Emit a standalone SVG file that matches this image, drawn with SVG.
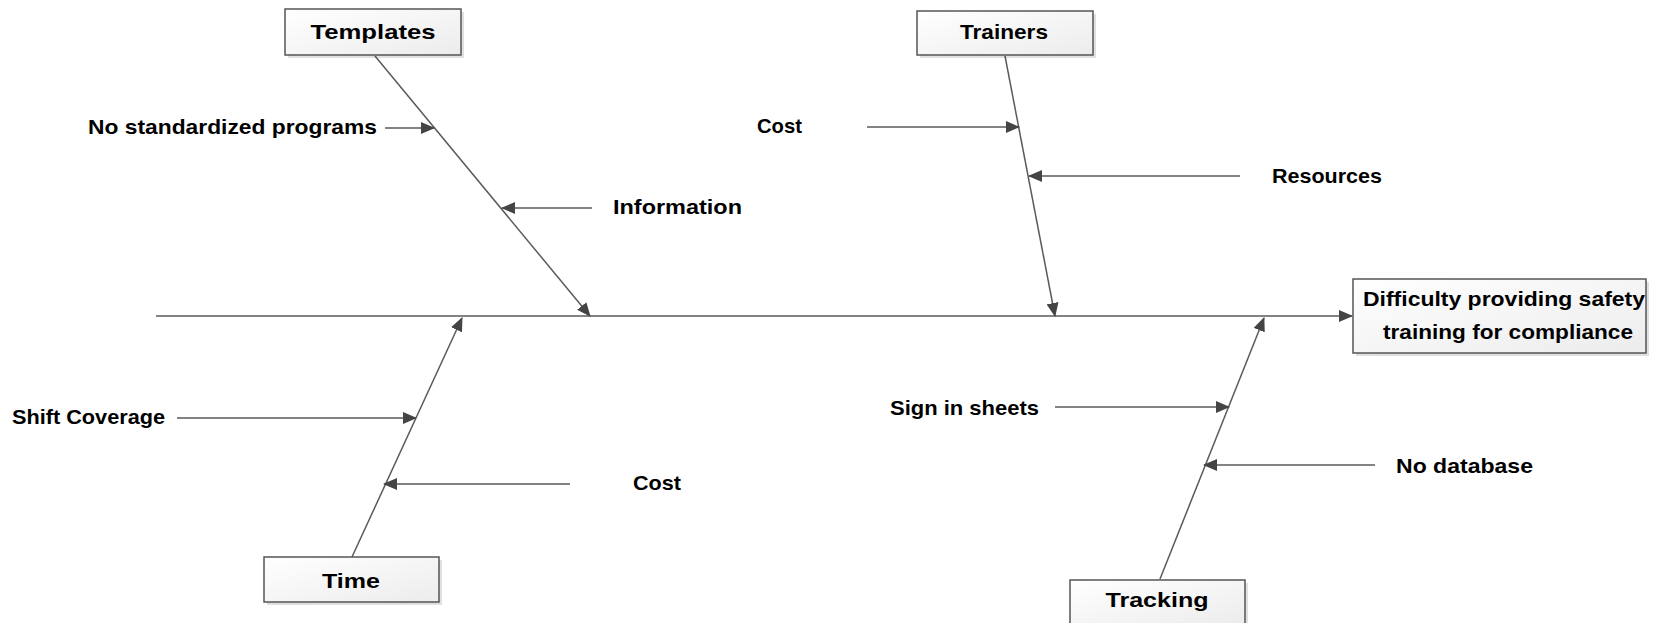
<svg xmlns="http://www.w3.org/2000/svg" width="1656" height="623" viewBox="0 0 1656 623">
<style>
.bg{fill:#ffffff}
.box{fill:url(#boxGrad);stroke:#555555;stroke-width:1.5}
.shadow{fill:#000000;opacity:0.12}
.lbl{font-family:"Liberation Sans",Arial,sans-serif;font-weight:bold;font-size:21px;fill:#000000}
.ctr{text-anchor:middle}
.sub{stroke:#5a5a5a;stroke-width:1.5;fill:none;marker-end:url(#arr)}
</style>
<defs>
<linearGradient id="boxGrad" x1="0" y1="0" x2="1" y2="1">
<stop offset="0" stop-color="#ffffff"/>
<stop offset="1" stop-color="#ececec"/>
</linearGradient>
<marker id="arr" markerUnits="userSpaceOnUse" markerWidth="14" markerHeight="12" refX="13" refY="6" orient="auto">
<path d="M0,0 L14,6 L0,12 Z" fill="#444444"/>
</marker>
</defs>
<rect class="bg" x="0" y="0" width="1656" height="623"/>
<g id="connectors">
<line class="sub" x1="156" y1="316" x2="1352" y2="316"/>
<line class="sub" x1="375" y1="56" x2="590" y2="316"/>
<line class="sub" x1="1005" y1="56" x2="1055" y2="316"/>
<line class="sub" x1="352" y1="557" x2="462" y2="318"/>
<line class="sub" x1="1160" y1="579" x2="1264" y2="318"/>
<line class="sub" x1="385" y1="128" x2="434" y2="128"/>
<line class="sub" x1="592" y1="208" x2="502" y2="208"/>
<line class="sub" x1="867" y1="127" x2="1019" y2="127"/>
<line class="sub" x1="1240" y1="176" x2="1029" y2="176"/>
<line class="sub" x1="177" y1="418" x2="416" y2="418"/>
<line class="sub" x1="570" y1="484" x2="384" y2="484"/>
<line class="sub" x1="1055" y1="407" x2="1229" y2="407"/>
<line class="sub" x1="1375" y1="465" x2="1204" y2="465"/>
</g>
<g id="node-templates">
<rect class="shadow" x="288" y="12" width="176" height="46"/>
<rect class="box" x="285" y="9" width="176" height="46"/>
<text class="lbl ctr" x="373" y="39" textLength="125" lengthAdjust="spacingAndGlyphs">Templates</text>
</g>
<g id="node-trainers">
<rect class="shadow" x="920" y="14" width="176" height="44"/>
<rect class="box" x="917" y="11" width="176" height="44"/>
<text class="lbl ctr" x="1004" y="39" textLength="88" lengthAdjust="spacingAndGlyphs">Trainers</text>
</g>
<g id="node-time">
<rect class="shadow" x="267" y="560" width="175" height="45"/>
<rect class="box" x="264" y="557" width="175" height="45"/>
<text class="lbl ctr" x="351" y="588" textLength="58" lengthAdjust="spacingAndGlyphs">Time</text>
</g>
<g id="node-tracking">
<rect class="shadow" x="1073" y="583" width="175" height="45"/>
<rect class="box" x="1070" y="580" width="175" height="45"/>
<text class="lbl ctr" x="1157" y="607" textLength="103" lengthAdjust="spacingAndGlyphs">Tracking</text>
</g>
<g id="node-effect">
<rect class="shadow" x="1356" y="282" width="293" height="74"/>
<rect class="box" x="1353" y="279" width="293" height="74"/>
<text class="lbl ctr" x="1504" y="306" textLength="282" lengthAdjust="spacingAndGlyphs">Difficulty providing safety</text>
<text class="lbl ctr" x="1508" y="339" textLength="250" lengthAdjust="spacingAndGlyphs">training for compliance</text>
</g>
<g id="cause-labels">
<text class="lbl" x="88" y="134" textLength="289" lengthAdjust="spacingAndGlyphs">No standardized programs</text>
<text class="lbl" x="613" y="214" textLength="129" lengthAdjust="spacingAndGlyphs">Information</text>
<text class="lbl" x="757" y="133" textLength="45" lengthAdjust="spacingAndGlyphs">Cost</text>
<text class="lbl" x="1272" y="183" textLength="110" lengthAdjust="spacingAndGlyphs">Resources</text>
<text class="lbl" x="12" y="424" textLength="153" lengthAdjust="spacingAndGlyphs">Shift Coverage</text>
<text class="lbl" x="633" y="490" textLength="48" lengthAdjust="spacingAndGlyphs">Cost</text>
<text class="lbl" x="890" y="415" textLength="149" lengthAdjust="spacingAndGlyphs">Sign in sheets</text>
<text class="lbl" x="1396" y="473" textLength="137" lengthAdjust="spacingAndGlyphs">No database</text>
</g>
</svg>
